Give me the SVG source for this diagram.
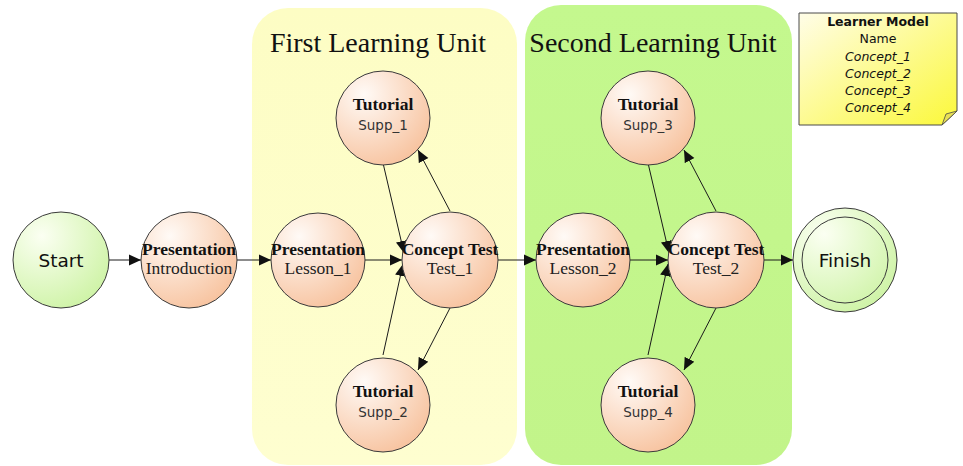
<svg xmlns="http://www.w3.org/2000/svg" width="963" height="466" viewBox="0 0 963 466">
  <defs>
    <radialGradient id="gOrange" cx="0.3" cy="0.25" r="0.85">
      <stop offset="0" stop-color="#fffaf6"/>
      <stop offset="1" stop-color="#f7c19c"/>
    </radialGradient>
    <radialGradient id="gGreen" cx="0.3" cy="0.25" r="0.85">
      <stop offset="0" stop-color="#fbfff2"/>
      <stop offset="1" stop-color="#cdf3a4"/>
    </radialGradient>
    <linearGradient id="gYellowUnit" x1="0" y1="0" x2="0" y2="1">
      <stop offset="0" stop-color="#fdfdc4"/>
      <stop offset="1" stop-color="#fefed0"/>
    </linearGradient>
    <linearGradient id="gGreenUnit" x1="0" y1="0" x2="0" y2="1">
      <stop offset="0" stop-color="#c4f88e"/>
      <stop offset="1" stop-color="#c2f48a"/>
    </linearGradient>
    <linearGradient id="gNote" x1="0" y1="0" x2="1" y2="1">
      <stop offset="0" stop-color="#fffde8"/>
      <stop offset="1" stop-color="#fbf83a"/>
    </linearGradient>
    <marker id="arrow" viewBox="0 0 10 10" refX="10" refY="5" markerWidth="12" markerHeight="12" markerUnits="userSpaceOnUse" orient="auto">
      <path d="M0,0.5 L10,5 L0,9.5 Z" fill="#111"/>
    </marker>
    <style>
      .node { stroke: #3a3a3a; stroke-width: 1; }
      .task { fill: url(#gOrange); }
      .term { fill: url(#gGreen); }
      .kind { font-family: "Liberation Serif", "Times New Roman", serif; font-weight: bold; font-size: 17.5px; fill: #111; text-anchor: middle; }
      .name { font-family: "Liberation Serif", "Times New Roman", serif; font-size: 17.5px; fill: #222; text-anchor: middle; }
      .supp { font-family: "DejaVu Sans", Verdana, sans-serif; font-size: 13.5px; fill: #333; text-anchor: middle; }
      .big { font-family: "DejaVu Sans", Verdana, sans-serif; font-size: 18.5px; fill: #111; text-anchor: middle; }
      .title { font-family: "Liberation Serif", "Times New Roman", serif; font-size: 28px; fill: #111; text-anchor: middle; }
      .note { font-family: "DejaVu Sans", Verdana, sans-serif; font-size: 12.5px; fill: #111; text-anchor: middle; }
      .edge { stroke: #1a1a1a; stroke-width: 1; fill: none; marker-end: url(#arrow); }
    </style>
  </defs>

  <rect width="963" height="466" fill="#ffffff"/>

  <!-- learning unit containers -->
  <g id="unit1">
    <rect x="252" y="8" width="265" height="457" rx="36" fill="url(#gYellowUnit)"/>
    <text class="title" x="378" y="52">First Learning Unit</text>
  </g>
  <g id="unit2">
    <rect x="525" y="5" width="267" height="460" rx="36" fill="url(#gGreenUnit)"/>
    <text class="title" x="653" y="52">Second Learning Unit</text>
  </g>

  <!-- learner model note -->
  <g id="learner-model">
    <path d="M799,13 H957 V111 L942,125 H799 Z" fill="url(#gNote)" stroke="#4a4a4a" stroke-width="1"/>
    <path d="M942,125 L946,114 L957,111 Z" fill="#e8e055" stroke="#4a4a4a" stroke-width="0.8"/>
    <text class="note" x="878" y="26" font-weight="bold">Learner Model</text>
    <text class="note" x="878" y="43">Name</text>
    <text class="note" x="878" y="61" font-style="italic">Concept_1</text>
    <text class="note" x="878" y="78" font-style="italic">Concept_2</text>
    <text class="note" x="878" y="95" font-style="italic">Concept_3</text>
    <text class="note" x="878" y="112" font-style="italic">Concept_4</text>
  </g>

  <!-- connectors -->
  <g id="connectors">
    <line class="edge" x1="109" y1="260" x2="141" y2="260"/>
    <line class="edge" x1="237" y1="260" x2="271" y2="260"/>
    <line class="edge" x1="365" y1="260" x2="402" y2="260"/>
    <line class="edge" x1="383" y1="163" x2="404" y2="253"/>
    <line class="edge" x1="383" y1="355" x2="403" y2="264"/>
    <line class="edge" x1="450" y1="211" x2="418" y2="150"/>
    <line class="edge" x1="450" y1="308" x2="418" y2="370"/>
    <line class="edge" x1="498" y1="260" x2="536" y2="260"/>
    <line class="edge" x1="630" y1="260" x2="668" y2="260"/>
    <line class="edge" x1="648" y1="163" x2="669" y2="253"/>
    <line class="edge" x1="648" y1="355" x2="668" y2="264"/>
    <line class="edge" x1="716" y1="211" x2="684" y2="150"/>
    <line class="edge" x1="716" y1="308" x2="684" y2="370"/>
    <line class="edge" x1="764" y1="260" x2="793" y2="260"/>
  </g>

  <!-- nodes -->
  <g id="start">
    <circle class="node term" cx="61" cy="260" r="48"/>
    <text class="big" x="61" y="267">Start</text>
  </g>
  <g id="introduction">
    <circle class="node task" cx="189" cy="260" r="48"/>
    <text class="kind" x="189" y="255">Presentation</text>
    <text class="name" x="189" y="274">Introduction</text>
  </g>
  <g id="lesson1">
    <circle class="node task" cx="318" cy="260" r="47"/>
    <text class="kind" x="318" y="255">Presentation</text>
    <text class="name" x="318" y="274">Lesson_1</text>
  </g>
  <g id="test1">
    <circle class="node task" cx="450" cy="260" r="48"/>
    <text class="kind" x="450" y="255">Concept Test</text>
    <text class="name" x="450" y="274">Test_1</text>
  </g>
  <g id="supp1">
    <circle class="node task" cx="383" cy="118" r="47"/>
    <text class="kind" x="383" y="110">Tutorial</text>
    <text class="supp" x="383" y="130">Supp_1</text>
  </g>
  <g id="supp2">
    <circle class="node task" cx="383" cy="405" r="47"/>
    <text class="kind" x="383" y="397">Tutorial</text>
    <text class="supp" x="383" y="417">Supp_2</text>
  </g>
  <g id="lesson2">
    <circle class="node task" cx="583" cy="260" r="47"/>
    <text class="kind" x="583" y="255">Presentation</text>
    <text class="name" x="583" y="274">Lesson_2</text>
  </g>
  <g id="test2">
    <circle class="node task" cx="716" cy="260" r="48"/>
    <text class="kind" x="716" y="255">Concept Test</text>
    <text class="name" x="716" y="274">Test_2</text>
  </g>
  <g id="supp3">
    <circle class="node task" cx="648" cy="118" r="47"/>
    <text class="kind" x="648" y="110">Tutorial</text>
    <text class="supp" x="648" y="130">Supp_3</text>
  </g>
  <g id="supp4">
    <circle class="node task" cx="648" cy="405" r="47"/>
    <text class="kind" x="648" y="397">Tutorial</text>
    <text class="supp" x="648" y="417">Supp_4</text>
  </g>
  <g id="finish">
    <circle class="node term" cx="845" cy="260" r="52"/>
    <circle class="node" cx="845" cy="260" r="43" fill="none"/>
    <text class="big" x="845" y="267">Finish</text>
  </g>
</svg>
